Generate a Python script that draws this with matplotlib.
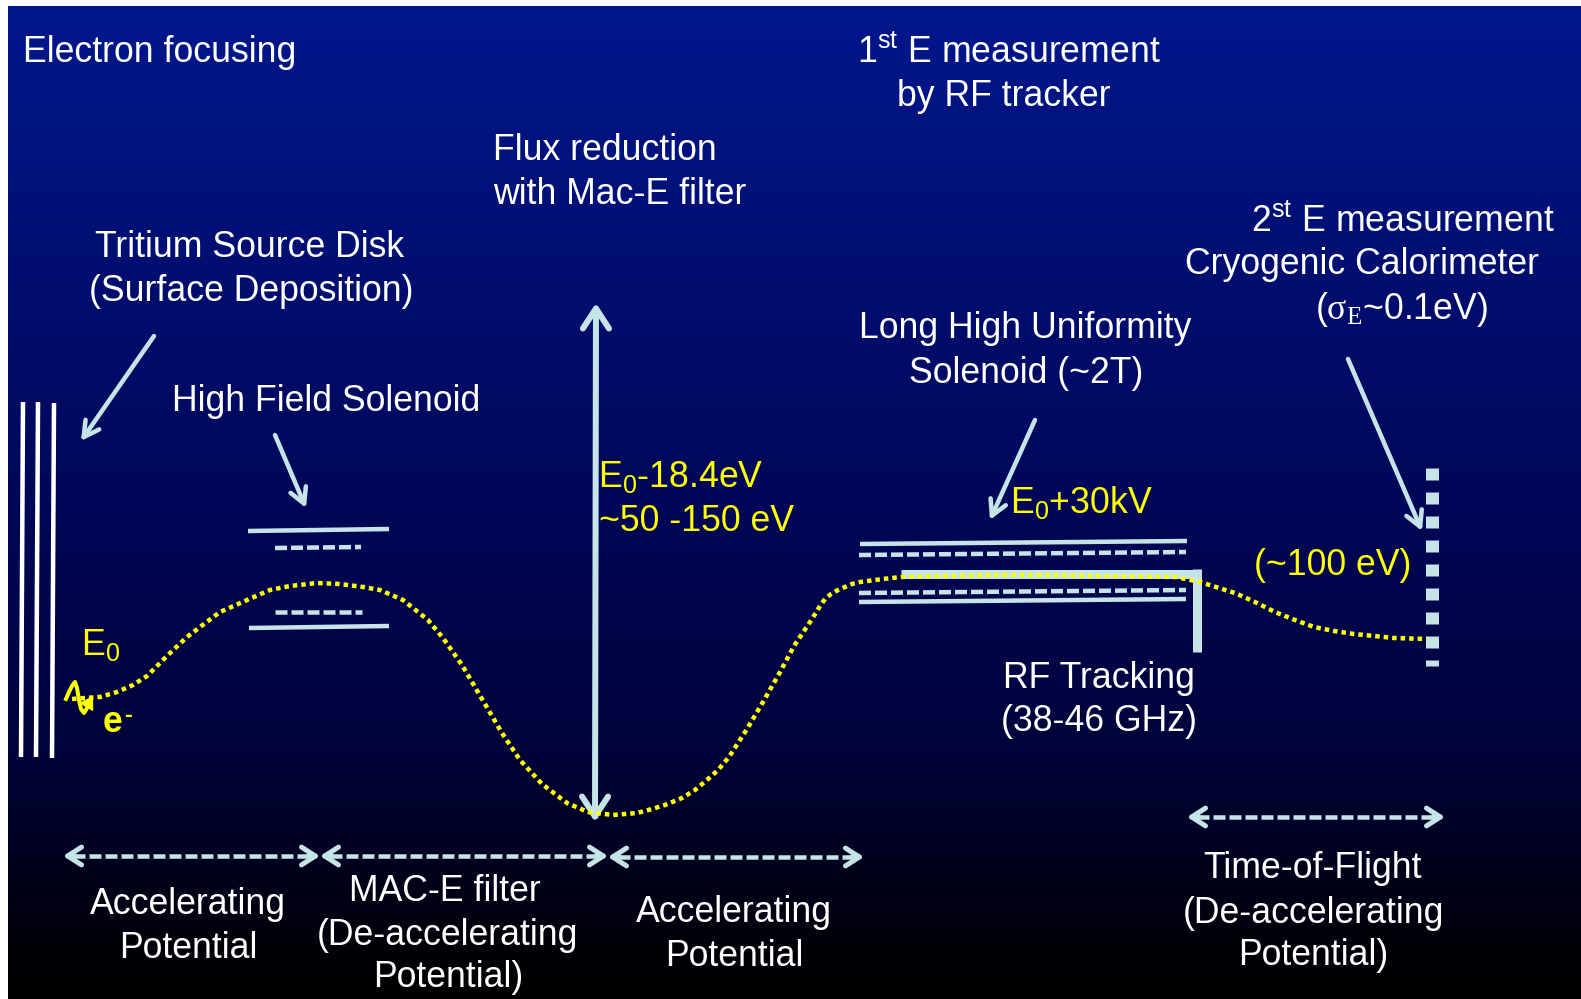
import matplotlib
matplotlib.use("Agg")
import matplotlib.pyplot as plt
import numpy as np
from matplotlib.colors import LinearSegmentedColormap

plt.rcParams["font.family"] = ["Liberation Sans", "DejaVu Sans"]
plt.rcParams["mathtext.fontset"] = "custom"
plt.rcParams["mathtext.rm"] = "Liberation Serif"
plt.rcParams["mathtext.default"] = "regular"
plt.rcParams["lines.scale_dashes"] = False

WIDTH = 1581
HEIGHT = 999
LIGHT = "#c4e4e8"
YELLOW = "#ffff00"
WHITE = "#ffffff"
PX = 72.0 / 100.0  # one pixel in points
FONT_SIZE = 25.7

# vertical background colours, position from top to bottom
bg_stops = [0.0, 0.25, 0.5, 0.75, 0.95, 1.0]
bg_colors = ["#00178c", "#000f72", "#000758", "#00023a", "#000008", "#000000"]

# potential curve seen by the electron
curve_x = [72, 85, 100, 117, 133, 147, 158, 170, 187, 200, 220, 247, 270, 290,
           317, 340, 363, 380, 403, 428, 443, 462, 482, 502, 520, 542, 567,
           588, 613, 637, 652, 665, 682, 695, 707, 718, 729, 747, 763, 779,
           794, 812, 820, 825, 831, 838, 845, 852, 860, 883, 901, 950, 1000,
           1038, 1100, 1176, 1200, 1235, 1255, 1275, 1295, 1314, 1334, 1354,
           1394, 1427]
curve_y = [699, 698, 697, 692, 685, 676, 665, 653, 637, 627, 612, 600, 590, 586,
           583, 584, 587, 590, 600, 620, 638, 665, 699, 733, 760, 784, 803,
           812, 815, 813, 809, 805, 798, 790, 780, 770, 757, 729, 702, 674,
           646, 619, 606, 599, 594, 590, 587, 584, 582, 579, 577, 576, 575,
           575, 576, 577, 582, 593, 602, 612, 620, 627, 631, 634,
           638, 639]

squiggle_x = [66, 69, 72, 75, 77, 79, 81, 84, 87, 90]
squiggle_y = [699, 692, 686, 682, 688, 700, 709, 713, 708, 701]

# source disk plates
plate_x0 = [23, 38, 54]
plate_x1 = [21, 36, 52]
plate_top = [402, 402, 403]
plate_bottom = [757, 757, 758]

# solid and dashed solenoid windings, (x0, y0, x1, y1)
solid_lines = [(248, 531, 389, 529), (249, 628, 389, 626),
               (860, 544, 1187, 541), (859, 602, 1186, 599)]
dashed_lines = [(275, 548, 361, 547), (275, 612, 362, 612),
                (859, 555, 1186, 552), (859, 593, 1186, 590)]

# pointer arrows, (from x, from y, tip x, tip y)
pointers = [(154, 336, 81, 441), (275, 435, 306, 508),
            (1035, 420, 990, 520), (1348, 359, 1422, 531)]

# region arrows under the curve, (x0, x1, y)
region_arrows = [(63, 320, 856), (320, 608, 856), (608, 864, 857), (1187, 1445, 817)]

white_text = [
    ("Electron focusing", 23, 62, "left"),
    ("1$^{st}$ E measurement", 857, 63, "left"),
    ("by RF tracker", 897, 106, "left"),
    ("Flux reduction", 493, 160, "left"),
    ("with Mac-E filter", 493, 204, "left"),
    ("2$^{st}$ E measurement", 1251, 232, "left"),
    ("Cryogenic Calorimeter", 1185, 274, "left"),
    (r"($\mathrm{\sigma_E}$~0.1eV)", 1315, 319, "left"),
    ("Tritium Source Disk", 250, 257, "center"),
    ("(Surface Deposition)", 251, 301, "center"),
    ("High Field Solenoid", 172, 411, "left"),
    ("Long High Uniformity", 1025, 338, "center"),
    ("Solenoid (~2T)", 1026, 383, "center"),
    ("RF Tracking", 1099, 688, "center"),
    ("(38-46 GHz)", 1099, 731, "center"),
    ("Accelerating", 188, 914, "center"),
    ("Potential", 188, 958, "center"),
    ("MAC-E filter", 445, 901, "center"),
    ("(De-accelerating", 447, 945, "center"),
    ("Potential)", 448, 987, "center"),
    ("Accelerating", 734, 922, "center"),
    ("Potential", 734, 966, "center"),
    ("Time-of-Flight", 1313, 878, "center"),
    ("(De-accelerating", 1313, 923, "center"),
    ("Potential)", 1313, 965, "center"),
]

yellow_text = [
    ("E$_0$", 81, 655),
    ("E$_0$-18.4eV", 598, 487),
    ("~50 -150 eV", 599, 531),
    ("E$_0$+30kV", 1010, 513),
    ("(~100 eV)", 1254, 575),
]


def draw_arrow(axis, x0, y0, x1, y1, style, width):
    axis.annotate(
        "", xy=(x1, y1), xytext=(x0, y0),
        arrowprops=dict(
            arrowstyle=style, color=LIGHT, lw=width * PX, shrinkA=0, shrinkB=0,
            mutation_scale=20))


figure = plt.figure(figsize=(WIDTH / 100, HEIGHT / 100), dpi=100, facecolor="white")
axis = figure.add_axes([0, 0, 1, 1])

bg_map = LinearSegmentedColormap.from_list("slide", list(zip(bg_stops, bg_colors)))
axis.imshow(
    np.linspace(0, 1, 512).reshape(-1, 1), cmap=bg_map, aspect="auto",
    extent=(8, WIDTH, HEIGHT, 6), zorder=0)
axis.set_xlim(0, WIDTH)
axis.set_ylim(HEIGHT, 0)
axis.axis("off")

for x0, x1, y0, y1 in zip(plate_x0, plate_x1, plate_top, plate_bottom):
    axis.plot([x0, x1], [y0, y1], color=WHITE, lw=4.5 * PX, solid_capstyle="butt")

for x0, y0, x1, y1 in solid_lines:
    axis.plot([x0, x1], [y0, y1], color=LIGHT, lw=4.5 * PX, solid_capstyle="butt")
for x0, y0, x1, y1 in dashed_lines:
    axis.plot([x0, x1], [y0, y1], color=LIGHT, lw=4.5 * PX,
              dashes=(12 * PX, 4 * PX), dash_capstyle="butt")

# RF tracking tube
axis.plot([901, 1201], [573.5, 573.5], color=LIGHT, lw=9 * PX, solid_capstyle="butt")
axis.plot([1196.5, 1196.5], [569, 652], color=LIGHT, lw=9 * PX, solid_capstyle="butt")

# segmented calorimeter
axis.plot([1432, 1432], [468, 666], color=LIGHT, lw=13 * PX,
          dashes=(12 * PX, 12 * PX), dash_capstyle="butt")

for x0, y0, x1, y1 in pointers:
    draw_arrow(axis, x0, y0, x1, y1, "->,head_length=0.55,head_width=0.3", 4.5)

# flux reduction double arrow
draw_arrow(axis, 595, 822, 596, 303, "<->,head_length=0.72,head_width=0.47", 6)

# dashed shaft first, then the two solid heads
for x0, x1, y in region_arrows:
    axis.plot([x0 + 10, x1 - 10], [y, y], color=LIGHT, lw=4.5 * PX,
              dashes=(12 * PX, 4 * PX), dash_capstyle="butt")
    for tip, tail in ((x0, x0 + 12), (x1, x1 - 12)):
        draw_arrow(axis, tail, y, tip, y, "->,head_length=0.5,head_width=0.32", 5)

axis.plot(curve_x, curve_y, color=YELLOW, lw=4.5 * PX, dashes=(4.5 * PX, 4 * PX),
          dash_capstyle="butt", zorder=5)
axis.plot(squiggle_x, squiggle_y, color=YELLOW, lw=4 * PX, zorder=5)
axis.annotate(
    "", xy=(93, 696), xytext=(squiggle_x[-1], squiggle_y[-1]), zorder=5,
    arrowprops=dict(arrowstyle="-|>,head_length=0.4,head_width=0.25", color=YELLOW,
                    lw=1, shrinkA=0, shrinkB=0, mutation_scale=20))

for label, x, y, align in white_text:
    axis.text(x, y, label, color=WHITE, fontsize=FONT_SIZE, ha=align, va="baseline", zorder=6)
for label, x, y in yellow_text:
    axis.text(x, y, label, color=YELLOW, fontsize=FONT_SIZE, ha="left", va="baseline", zorder=6)
axis.text(103, 732, "e", color=YELLOW, fontsize=FONT_SIZE, fontweight="bold",
          ha="left", va="baseline", zorder=6)
axis.text(124, 722, "-", color=YELLOW, fontsize=17, fontweight="bold",
          ha="left", va="baseline", zorder=6)

figure.savefig("out.png", dpi=100, facecolor="white")
